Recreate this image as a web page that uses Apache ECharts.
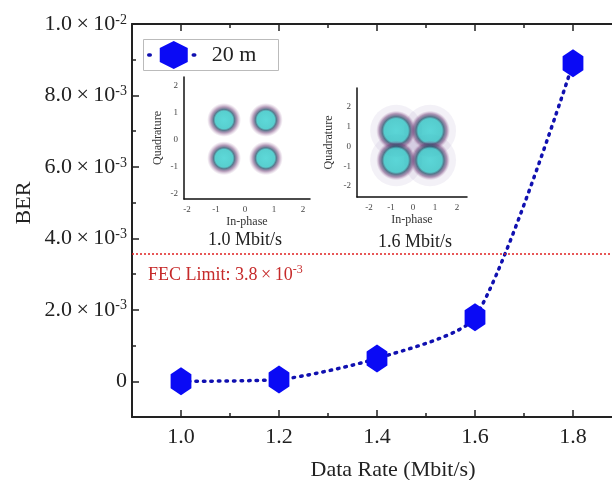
<!DOCTYPE html>
<html><head><meta charset="utf-8">
<script src="https://cdn.jsdelivr.net/npm/echarts@6/dist/echarts.min.js"></script>
<style>html,body{margin:0;padding:0;background:#fff}#c{width:612px;height:480px}</style>
</head><body><div id="c"></div>
<script>
// ---- data ----
const rates = [1.0, 1.2, 1.4, 1.6, 1.8];
const ber20m = [0.00000, 0.00005, 0.00064, 0.00179, 0.0089];
const seriesName = '20 m';
const xTickLabels = [1.0, 1.2, 1.4, 1.6, 1.8];
const xMinorTicks = [1.1, 1.3, 1.5, 1.7];
const yTickLabels = [0, 0.002, 0.004, 0.006, 0.008, 0.01];
const yMinorTicks = [0.001, 0.003, 0.005, 0.007, 0.009];
const fecLimit = 0.00356;
const fecText = 'FEC Limit: 3.8\u2009×\u200910';
const fecExp = '-3';
const inset1Centers = [[-0.72, 0.74], [0.72, 0.74], [-0.72, -0.68], [0.72, -0.68]];
const inset2Centers = [[-0.77, 0.8], [0.77, 0.8], [-0.77, -0.7], [0.77, -0.7]];
const insetTicks = [-2, -1, 0, 1, 2];
const inset1Title = '1.0 Mbit/s';
const inset2Title = '1.6 Mbit/s';

const FONT = 'Liberation Serif';
const hexPath = 'path://M0,-1 L0.866,-0.5 L0.866,0.5 L0,1 L-0.866,0.5 L-0.866,-0.5 Z';

function sciLabel(v) {
  if (Math.abs(v) < 1e-12) return '{n|0}';
  const e = Math.floor(Math.log10(v) + 1e-9);
  const m = v / Math.pow(10, e);
  return '{n|' + m.toFixed(1) + '\u2009×\u200910}{sup|' + e + '}';
}

const chart = echarts.init(document.getElementById('c'), null, {renderer: 'canvas'});

const axisLineMain = {show: true, onZero: false, lineStyle: {color: '#222', width: 2}};
const noLine = {show: false, onZero: false};

function clusterGradient(core) {
  return {
    type: 'radial', x: 0.5, y: 0.5, r: 0.5,
    colorStops: [
      {offset: 0, color: '#35cfcf'},
      {offset: core, color: '#2ec3c3'},
      {offset: core + 0.1, color: 'rgba(35,80,105,0.95)'},
      {offset: core + 0.25, color: 'rgba(100,50,110,0.6)'},
      {offset: 1, color: 'rgba(170,120,170,0)'}
    ]
  };
}

function insetX(gi, min, max) {
  return {
    gridIndex: gi, type: 'value', min: min, max: max, position: 'bottom',
    axisLine: {show: true, onZero: false, lineStyle: {color: '#111', width: 1.5}},
    axisTick: {show: false}, splitLine: {show: false},
    axisLabel: {customValues: insetTicks, fontSize: 9, fontFamily: FONT, color: '#444', margin: 6},
    name: 'In-phase', nameLocation: 'middle', nameGap: 17,
    nameTextStyle: {fontSize: 12, fontFamily: FONT, color: '#333'}
  };
}
function insetY(gi, min, max, gap) {
  return {
    gridIndex: gi, type: 'value', min: min, max: max, position: 'left',
    axisLine: {show: true, onZero: false, lineStyle: {color: '#111', width: 1.5}},
    axisTick: {show: false}, splitLine: {show: false},
    axisLabel: {customValues: insetTicks, fontSize: 9, fontFamily: FONT, color: '#444', margin: 6},
    name: 'Quadrature', nameLocation: 'middle', nameGap: gap, nameRotate: 90,
    nameTextStyle: {fontSize: 12, fontFamily: FONT, color: '#333'}
  };
}

const option = {
  backgroundColor: '#fff',
  animation: false,
  grid: [
    {left: 132, top: 24, width: 490, height: 393, outerBoundsMode: 'none', containLabel: false},
    {left: 184, top: 77, width: 126, height: 122, outerBoundsMode: 'none', containLabel: false},
    {left: 357, top: 88, width: 110, height: 109, outerBoundsMode: 'none', containLabel: false}
  ],
  xAxis: [
    {gridIndex: 0, type: 'value', min: 0.9, max: 1.9, position: 'bottom',
      axisLine: axisLineMain, splitLine: {show: false},
      axisTick: {inside: true, length: 7, customValues: xTickLabels, lineStyle: {color: '#222', width: 1.5}},
      axisLabel: {customValues: xTickLabels, formatter: v => v.toFixed(1), fontSize: 22, fontFamily: FONT, color: '#222', margin: 9}},
    {gridIndex: 0, type: 'value', min: 0.9, max: 1.9, position: 'bottom',
      axisLine: noLine, splitLine: {show: false}, axisLabel: {show: false},
      axisTick: {inside: true, length: 4, customValues: xMinorTicks, lineStyle: {color: '#222', width: 1.5}}},
    {gridIndex: 0, type: 'value', min: 0.9, max: 1.9, position: 'top',
      axisLine: axisLineMain, splitLine: {show: false}, axisLabel: {show: false},
      axisTick: {inside: true, length: 7, customValues: xTickLabels, lineStyle: {color: '#222', width: 1.5}}},
    {gridIndex: 0, type: 'value', min: 0.9, max: 1.9, position: 'top',
      axisLine: noLine, splitLine: {show: false}, axisLabel: {show: false},
      axisTick: {inside: true, length: 4, customValues: xMinorTicks, lineStyle: {color: '#222', width: 1.5}}},
    insetX(1, -2.1, 2.24),
    insetX(2, -2.55, 2.45)
  ],
  yAxis: [
    {gridIndex: 0, type: 'value', min: -0.001, max: 0.01, position: 'left',
      axisLine: axisLineMain, splitLine: {show: false},
      axisTick: {inside: true, length: 7, customValues: yTickLabels, lineStyle: {color: '#222', width: 1.5}},
      axisLabel: {customValues: yTickLabels, formatter: sciLabel, margin: 5, color: '#222',
        rich: {
          n: {fontSize: 22, fontFamily: FONT, color: '#222', lineHeight: 22, verticalAlign: 'bottom'},
          sup: {fontSize: 14, fontFamily: FONT, color: '#222', lineHeight: 22, verticalAlign: 'top'}
        }}},
    {gridIndex: 0, type: 'value', min: -0.001, max: 0.01, position: 'left',
      axisLine: noLine, splitLine: {show: false}, axisLabel: {show: false},
      axisTick: {inside: true, length: 4, customValues: yMinorTicks, lineStyle: {color: '#222', width: 1.5}}},
    insetY(1, -2.19, 2.33, 20),
    insetY(2, -2.56, 2.96, 22)
  ],
  legend: {
    left: 147, top: 41, orient: 'horizontal', padding: 0,
    itemWidth: 50, itemHeight: 35, symbolKeepAspect: true,
    lineStyle: {type: [1.5, 43], width: 3.5, cap: 'round', color: '#1010b0'},
    textStyle: {fontSize: 22, fontFamily: FONT, color: '#222', padding: [0, 0, 0, 8]},
    data: [seriesName]
  },
  graphic: [
    {type: 'rect', left: 143, top: 39, z: 1, shape: {width: 135, height: 31},
      style: {fill: '#fff', stroke: '#bbb', lineWidth: 1}},
    {type: 'text', x: 24, y: 203, rotation: Math.PI / 2,
      style: {text: 'BER', fontSize: 22, fontFamily: FONT, fill: '#222', align: 'center', verticalAlign: 'middle'}},
    {type: 'text', x: 393, y: 470,
      style: {text: 'Data Rate (Mbit/s)', fontSize: 22, fontFamily: FONT, fill: '#222', align: 'center', verticalAlign: 'middle'}},
    {type: 'text', x: 148, y: 274,
      style: {text: '{a|' + fecText + '}{s|' + fecExp + '}', align: 'left', verticalAlign: 'middle',
        rich: {
          a: {fontSize: 18, fontFamily: FONT, fill: '#c62a2a', lineHeight: 20, verticalAlign: 'bottom'},
          s: {fontSize: 12, fontFamily: FONT, fill: '#c62a2a', lineHeight: 20, verticalAlign: 'top'}
        }}},
    {type: 'text', x: 245, y: 240,
      style: {text: inset1Title, fontSize: 18, fontFamily: FONT, fill: '#222', align: 'center', verticalAlign: 'middle'}},
    {type: 'text', x: 415, y: 242,
      style: {text: inset2Title, fontSize: 18, fontFamily: FONT, fill: '#222', align: 'center', verticalAlign: 'middle'}}
  ],
  series: [
    {
      name: seriesName, type: 'line', xAxisIndex: 0, yAxisIndex: 0,
      data: rates.map((r, i) => [r, ber20m[i]]),
      smooth: 0.22,
      symbol: hexPath, symbolSize: [24, 28], symbolKeepAspect: true,
      itemStyle: {color: '#0a0af5'},
      lineStyle: {type: [1.5, 6], width: 3.5, cap: 'round', color: '#1010b0'},
      z: 3,
      markLine: {
        silent: true, symbol: 'none', label: {show: false}, precision: 8,
        lineStyle: {type: [2, 2], color: '#e02020', width: 1.5},
        data: [{yAxis: fecLimit}]
      }
    },
    {type: 'scatter', xAxisIndex: 4, yAxisIndex: 2, data: inset1Centers,
      symbol: 'circle', symbolSize: 34, itemStyle: {color: clusterGradient(0.52)}, silent: true},
    {type: 'scatter', xAxisIndex: 5, yAxisIndex: 3, data: inset2Centers,
      symbol: 'circle', symbolSize: 52, itemStyle: {color: 'rgba(130,110,170,0.12)'}, silent: true},
    {type: 'scatter', xAxisIndex: 5, yAxisIndex: 3, data: inset2Centers,
      symbol: 'circle', symbolSize: 40, itemStyle: {color: clusterGradient(0.6)}, silent: true}
  ]
};
chart.setOption(option);
</script>
</body></html>
